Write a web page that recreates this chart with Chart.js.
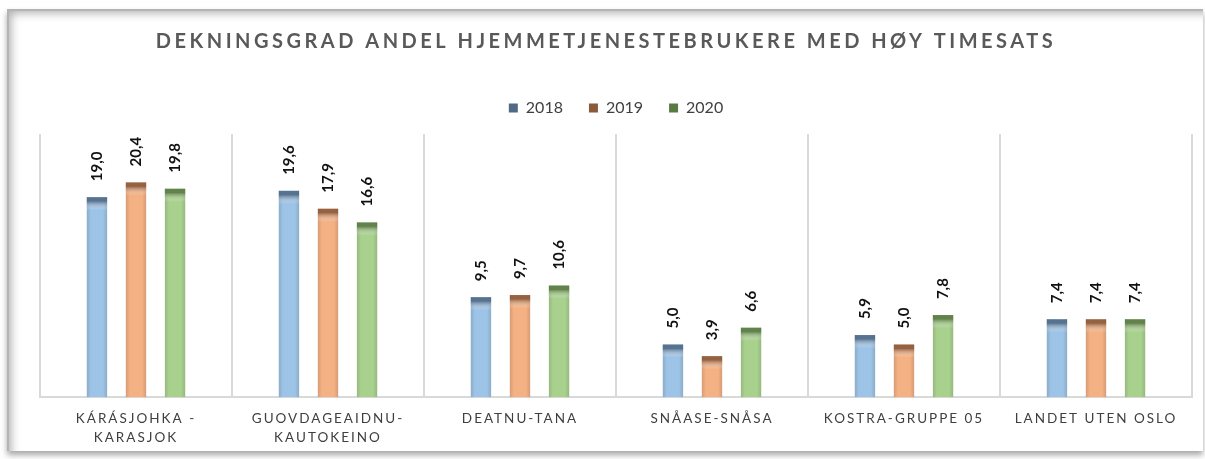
<!DOCTYPE html>
<html>
<head>
<meta charset="utf-8">
<script src="https://cdn.jsdelivr.net/npm/chart.js@4"></script>
<style>
  html, body { margin: 0; padding: 0; background: #fff; }
  .wrap { position: relative; width: 1205px; height: 459px; overflow: hidden; }
  .frame {
    position: absolute; left: 7px; top: 9px; width: 1194px; height: 440px;
    border-top: 2px solid #b4b4b4; border-left: 2px solid #b4b4b4;
    box-shadow: inset 9px 9px 10px -7px rgba(0,0,0,0.32), 0 4px 6px rgba(0,0,0,0.35);
    background: #fff;
  }
  canvas { position: absolute; left: 0; top: 0; }
</style>
</head>
<body>
<div class="wrap">
  <div class="frame"></div>
  <canvas id="chart" width="1205" height="459"></canvas>
</div>
<script>
// Dekningsgrad - andel hjemmetjenestebrukere med høy timesats

const categories = [
    ['KÁRÁSJOHKA -', 'KARASJOK'],
    ['GUOVDAGEAIDNU-', 'KAUTOKEINO'],
    'DEATNU-TANA',
    'SNÅASE-SNÅSA',
    'KOSTRA-GRUPPE 05',
    'LANDET UTEN OSLO',
];
const seriesNames = ['2018', '2019', '2020'];
const values2018 = [19.0, 19.6, 9.5, 5.0, 5.9, 7.4];
const values2019 = [20.4, 17.9, 9.7, 3.9, 5.0, 7.4];
const values2020 = [19.8, 16.6, 10.6, 6.6, 7.8, 7.4];

const bodyColors = ['#9dc3e6', '#f4b183', '#a9d18e'];
const capColors  = ['#4f6a86', '#8a5a3b', '#5a7a44'];
const FONT = 'Lato, "Open Sans", sans-serif';

// letter spaced text for title + category labels (Excel style),
// plus a bit of extra room under the legend
const spacingPlugin = {
    id: 'spacing',
    afterInit(chart) {
        const legend = chart.legend;
        if (legend && !legend._padded) {
            const fit = legend.fit;
            legend.fit = function () {
                fit.call(this);
                this.height += 8;
            };
            legend._padded = true;
        }
    },
    afterLayout(chart) {
        const ctx = chart.ctx;
        const wrap = (obj, fn, sp, dx) => {
            if (!obj || obj['_sp_' + fn]) return;
            const orig = obj[fn];
            obj[fn] = function (...a) {
                ctx.save();
                ctx.letterSpacing = sp;
                ctx.translate(dx, 0);
                orig.apply(this, a);
                ctx.restore();
            };
            obj['_sp_' + fn] = true;
        };
        wrap(chart.titleBlock, 'draw', '3.5px', -10);
        wrap(chart.scales.x, 'drawLabels', '2px', 0);
    },
};

// dark top cap and shaded edges on each bar
const shadePlugin = {
    id: 'shade',
    afterDatasetsDraw(chart) {
        const ctx = chart.ctx;
        chart.data.datasets.forEach((ds, di) => {
            const meta = chart.getDatasetMeta(di);
            meta.data.forEach(bar => {
                const w = bar.width, left = bar.x - w / 2, top = bar.y, h = bar.base - bar.y;
                ctx.save();
                let g = ctx.createLinearGradient(left, 0, left + w, 0);
                g.addColorStop(0, 'rgba(0,0,0,0.12)');
                g.addColorStop(0.2, 'rgba(0,0,0,0)');
                g.addColorStop(0.8, 'rgba(0,0,0,0)');
                g.addColorStop(1, 'rgba(0,0,0,0.12)');
                ctx.fillStyle = g;
                ctx.fillRect(left, top, w, h);
                g = ctx.createLinearGradient(0, top, 0, top + 13);
                g.addColorStop(0, capColors[di]);
                g.addColorStop(0.3, capColors[di]);
                g.addColorStop(1, 'rgba(255,255,255,0)');
                ctx.globalAlpha = 0.9;
                ctx.fillStyle = g;
                ctx.fillRect(left, top, w, Math.min(13, h));
                ctx.restore();
            });
        });
    },
};

// rotated value labels above the bars
const valueLabelPlugin = {
    id: 'valueLabels',
    afterDatasetsDraw(chart) {
        const ctx = chart.ctx;
        ctx.save();
        ctx.font = 'bold 15px ' + FONT;
        ctx.fillStyle = '#111';
        ctx.textAlign = 'left';
        ctx.textBaseline = 'middle';
        chart.data.datasets.forEach((ds, di) => {
            chart.getDatasetMeta(di).data.forEach((bar, i) => {
                ctx.save();
                ctx.translate(bar.x, bar.y - 16);
                ctx.rotate(-Math.PI / 2);
                ctx.fillText(ds.data[i].toFixed(1).replace('.', ','), 0, 0);
                ctx.restore();
            });
        });
        ctx.restore();
    },
};

const ctx = document.getElementById('chart').getContext('2d');

new Chart(ctx, {
    type: 'bar',
    data: {
        labels: categories,
        datasets: [
            { label: seriesNames[0], data: values2018, backgroundColor: bodyColors[0] },
            { label: seriesNames[1], data: values2019, backgroundColor: bodyColors[1] },
            { label: seriesNames[2], data: values2020, backgroundColor: bodyColors[2] },
        ],
    },
    options: {
        responsive: false,
        animation: false,
        events: [],
        categoryPercentage: 0.61,
        barPercentage: 0.52,
        layout: { padding: { left: 40, right: 13, top: 0, bottom: 0 } },
        plugins: {
            title: {
                display: true,
                text: 'DEKNINGSGRAD ANDEL HJEMMETJENESTEBRUKERE MED HØY TIMESATS',
                color: '#595959',
                font: { family: FONT, size: 20, weight: 'bold', lineHeight: 1.2 },
                padding: { top: 30, bottom: 20 },
            },
            legend: {
                display: true,
                labels: {
                    color: '#404040',
                    font: { family: FONT, size: 16 },
                    boxWidth: 9,
                    boxHeight: 9,
                    padding: 26,
                    generateLabels(chart) {
                        const items = Chart.defaults.plugins.legend.labels.generateLabels(chart);
                        items.forEach((it, i) => {
                            it.fillStyle = capColors[i];
                            it.strokeStyle = capColors[i];
                            it.lineWidth = 0;
                        });
                        return items;
                    },
                },
            },
            tooltip: { enabled: false },
        },
        scales: {
            x: {
                grid: { color: '#d9d9d9', lineWidth: 2, drawTicks: false, offset: true },
                border: { color: '#d9d9d9', width: 2 },
                ticks: {
                    color: '#404040',
                    font: { family: FONT, size: 13.5, lineHeight: 1.4 },
                    padding: 12,
                    maxRotation: 0,
                    autoSkip: false,
                },
            },
            y: {
                display: false,
                min: 0,
                max: 25,
            },
        },
    },
    plugins: [spacingPlugin, shadePlugin, valueLabelPlugin],
});
</script>
</body>
</html>
